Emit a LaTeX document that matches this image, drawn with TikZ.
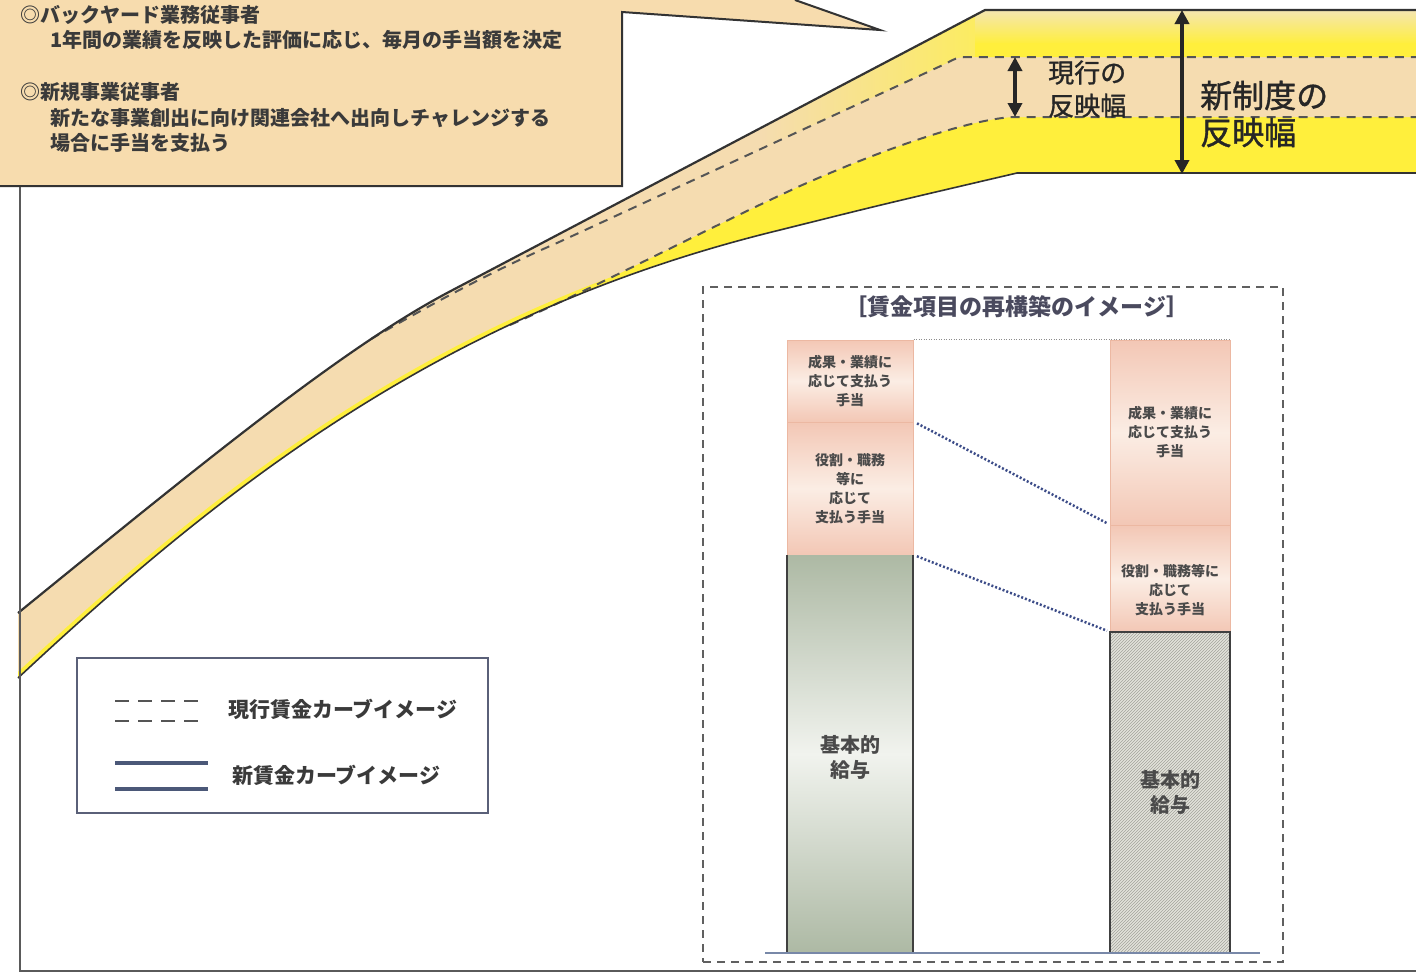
\documentclass[tikz,border=0pt]{standalone}
\usepackage{fontspec}
\setmainfont{Noto Sans CJK JP}
\newfontfamily\labfont[FakeBold=1.2]{Noto Sans CJK JP}
\usetikzlibrary{arrows.meta,patterns}
\definecolor{calloutc}{HTML}{F7DCAE}
\definecolor{tanc}{HTML}{F5DCB0}
\definecolor{yelc}{HTML}{FFEF3C}
\definecolor{paletop}{HTML}{F4E5B8}
\definecolor{linec}{HTML}{333333}
\definecolor{dashc}{HTML}{555555}
\definecolor{axisc}{HTML}{5A5A5A}
\definecolor{txtc}{HTML}{3A3A3A}
\definecolor{legc}{HTML}{5A6078}
\definecolor{legline}{HTML}{4B5878}
\definecolor{boxdash}{HTML}{606060}
\definecolor{titlec}{HTML}{4A4A5E}
\definecolor{pkd}{HTML}{F3C7B5}
\definecolor{pkl}{HTML}{FBEDE4}
\definecolor{pkb}{HTML}{ECB8A2}
\definecolor{grd}{HTML}{ADB9A4}
\definecolor{grl}{HTML}{F1F3EE}
\definecolor{hatchbg}{HTML}{E3E3DB}
\definecolor{hatchfg}{HTML}{A3A39B}
\definecolor{bluedot}{HTML}{3C4C88}
\definecolor{basec}{HTML}{7888A8}
\definecolor{bartxt}{HTML}{4A4A4A}
\begin{document}
\begin{tikzpicture}[x=1pt,y=-1pt,
  seg/.style={draw=pkb, line width=1, top color=pkd, bottom color=pkd, middle color=pkl, inner sep=0, align=center, text=bartxt, font=\bfseries\fontsize{14}{19}\selectfont},
  segtxt/.style={inner sep=0, align=center, text=bartxt, font=\bfseries\fontsize{14}{19}\selectfont},
  basetxt/.style={inner sep=0, align=center, text=bartxt, font=\bfseries\fontsize{20}{25}\selectfont},
  ctext/.style={anchor=west, inner sep=0, text=txtc, font=\bfseries\fontsize{20}{24}\selectfont},
  legtxt/.style={anchor=west, inner sep=0, text=txtc, font=\bfseries\fontsize{21}{25}\selectfont},
  curve/.style={draw=linec, line width=2.2, line join=round},
  dashline/.style={draw=dashc, line width=2, dash pattern=on 9pt off 7pt},
  dblarrow/.style={draw=black!85, line width=3.5, arrows={Triangle[length=14pt,width=14pt]-Triangle[length=14pt,width=14pt]}},
  barline/.style={draw=black!75, line width=2.2},
  dotconn/.style={draw=bluedot, line width=2.5, dash pattern=on 2pt off 2pt}
]
\path[use as bounding box] (0,0) rectangle (1416,978);
\fill[white] (0,0) rectangle (1416,978);

\def\bandpath{(18,613) .. controls (200,465) and (340,350) .. (447,293) -- (985,10) -- (1416,10) -- (1416,173) -- (1017,173) .. controls (880,205) .. (780,230) .. controls (450,310) and (230,480) .. (18,678) -- cycle}
\def\Upath{(18,613) .. controls (200,465) and (340,350) .. (447,293) -- (985,10) -- (1416,10)}
\def\Lpath{(18,678) .. controls (230,480) and (450,310) .. (780,230) .. controls (880,205) .. (1017,173) -- (1416,173)}
\def\Done{(371,339) .. controls (430,305) and (490,272) .. (557,243) -- (945,64) .. controls (958,57) .. (975,57) -- (1416,57)}
\def\Dtwo{(510,325) .. controls (590,290) and (700,232) .. (800,186) .. controls (890,146) and (975,118) .. (1015,117) -- (1416,117)}

% band
\fill[yelc] \bandpath;
\begin{scope}
  \clip \bandpath;
  \fill[tanc] (0,0) -- (1416,0) -- (1416,117) -- (1015,117) .. controls (975,118) and (890,146) .. (800,186) .. controls (700,232) and (590,290) .. (510,325) -- (510,800) -- (0,800) -- cycle;
  \begin{scope}
    \clip (371,0) -- (371,339) .. controls (430,305) and (490,272) .. (557,243) -- (945,64) .. controls (958,57) .. (975,57) -- (1416,57) -- (1416,0) -- cycle;
    \shade[left color=tanc, right color=yelc!70!paletop] (760,0) rectangle (975,240);
    \shade[top color=paletop, bottom color=yelc] (975,8) rectangle (1416,44);
    \fill[yelc] (975,43) rectangle (1416,60);
  \end{scope}
  \draw[yelc, line width=9] \Lpath;
\end{scope}
\draw[dashline] \Done;
\draw[dashline] \Dtwo;
\draw[curve] \Upath;
\draw[draw=linec, line width=1.6] \Lpath;

% axes
\draw[draw=axisc, line width=1.6] (20,186) -- (20,971) -- (1416,971);

% callout
\fill[calloutc] (0,0) -- (795,0) -- (880,30) -- (622,12) -- (622,186) -- (0,186) -- cycle;
\draw[draw=linec, line width=2, line join=miter] (795,0) -- (880,30) -- (622,12) -- (622,186) -- (0,186);
\node[ctext] (c1) at (20,15) {◎バックヤード業務従事者};
\node[ctext] (c2) at (50,40) {1年間の業績を反映した評価に応じ、毎月の手当額を決定};
\node[ctext] (c3) at (20,92) {◎新規事業従事者};
\node[ctext] (c4) at (50,118) {新たな事業創出に向け関連会社へ出向しチャレンジする};
\node[ctext] (c5) at (50,143) {場合に手当を支払う};

% reflection-width arrows and labels
\coordinate (ca1) at (1015,57);
\coordinate (ca2) at (1015,117);
\draw[dblarrow] (ca1) -- (ca2);
\coordinate (na1) at (1182,10);
\coordinate (na2) at (1182,174);
\draw[dblarrow] (na1) -- (na2);
\node[anchor=west, inner sep=0, align=left, text=black!85, font=\labfont\fontsize{26}{33}\selectfont] (curlbl) at (1048,89) {現行の\\反映幅};
\node[anchor=west, inner sep=0, align=left, text=black!85, font=\labfont\fontsize{32}{37}\selectfont] (newlbl) at (1200,114) {新制度の\\反映幅};

% legend
\node[draw=legc, line width=1.5, minimum width=411, minimum height=155, inner sep=0] (legend) at (282.5,735.5) {};
\draw[draw=dashc, line width=2.4, dash pattern=on 14pt off 9pt] (115,701) -- (200,701);
\draw[draw=dashc, line width=2.4, dash pattern=on 14pt off 9pt] (115,721) -- (200,721);
\draw[draw=legline, line width=3.2] (115,763) -- (208,763);
\draw[draw=legline, line width=3.2] (115,789) -- (208,789);
\node[legtxt] (lt1) at (228,709) {現行賃金カーブイメージ};
\node[legtxt] (lt2) at (232,775) {新賃金カーブイメージ};

% dashed frame
\node[draw=boxdash, line width=1.6, dash pattern=on 8pt off 6pt, minimum width=580, minimum height=675, inner sep=0] (frame) at (993,624.5) {};
\node[inner sep=0, text=titlec, font=\bfseries\fontsize{23}{28}\selectfont] (title) at (1017,307) {［賃金項目の再構築のイメージ］};

% left bar
\node[seg, minimum width=126, minimum height=82] (lperf) at (850,381) {成果・業績に\\応じて支払う\\手当};
\node[seg, minimum width=126, minimum height=133] (lrole) at (850,488.5) {役割・職務\\等に\\応じて\\支払う手当};
\node[top color=grd, bottom color=grd, middle color=grl, minimum width=126, minimum height=398, inner sep=0] (lbase) at (850,754) {};
\node[basetxt] (lbasetxt) at (850,757) {基本的\\給与};
\draw[barline] (lbase.north west) -- (lbase.south west);
\draw[barline] (lbase.north east) -- (lbase.south east);

% right bar
\node[seg, minimum width=120, minimum height=185] (rperf) at (1170,432.5) {成果・業績に\\応じて支払う\\手当};
\node[seg, minimum width=120, minimum height=107] (rrole) at (1170,578.5) {};
\node[segtxt] (rroletxt) at (1170,590) {役割・職務等に\\応じて\\支払う手当};
\node[preaction={fill=hatchbg}, pattern=north east lines, pattern color=hatchfg, minimum width=120, minimum height=321, inner sep=0] (rbase) at (1170,792.5) {};
\node[basetxt] (rbasetxt) at (1170,792) {基本的\\給与};
\draw[barline] (rbase.south west) -- (rbase.north west) -- (rbase.north east) -- (rbase.south east);

% baseline and connectors
\draw[draw=basec, line width=2] (765,953) -- (1260,953);
\draw[draw=black!45, line width=1, dash pattern=on 1pt off 1.5pt] (lperf.north east) -- (rperf.north east);
\draw[dotconn, shorten <=4pt, shorten >=3pt] (lrole.north east) -- (rrole.north west);
\draw[dotconn, shorten <=4pt, shorten >=3pt] (lbase.north east) -- (rbase.north west);
\end{tikzpicture}
\end{document}
